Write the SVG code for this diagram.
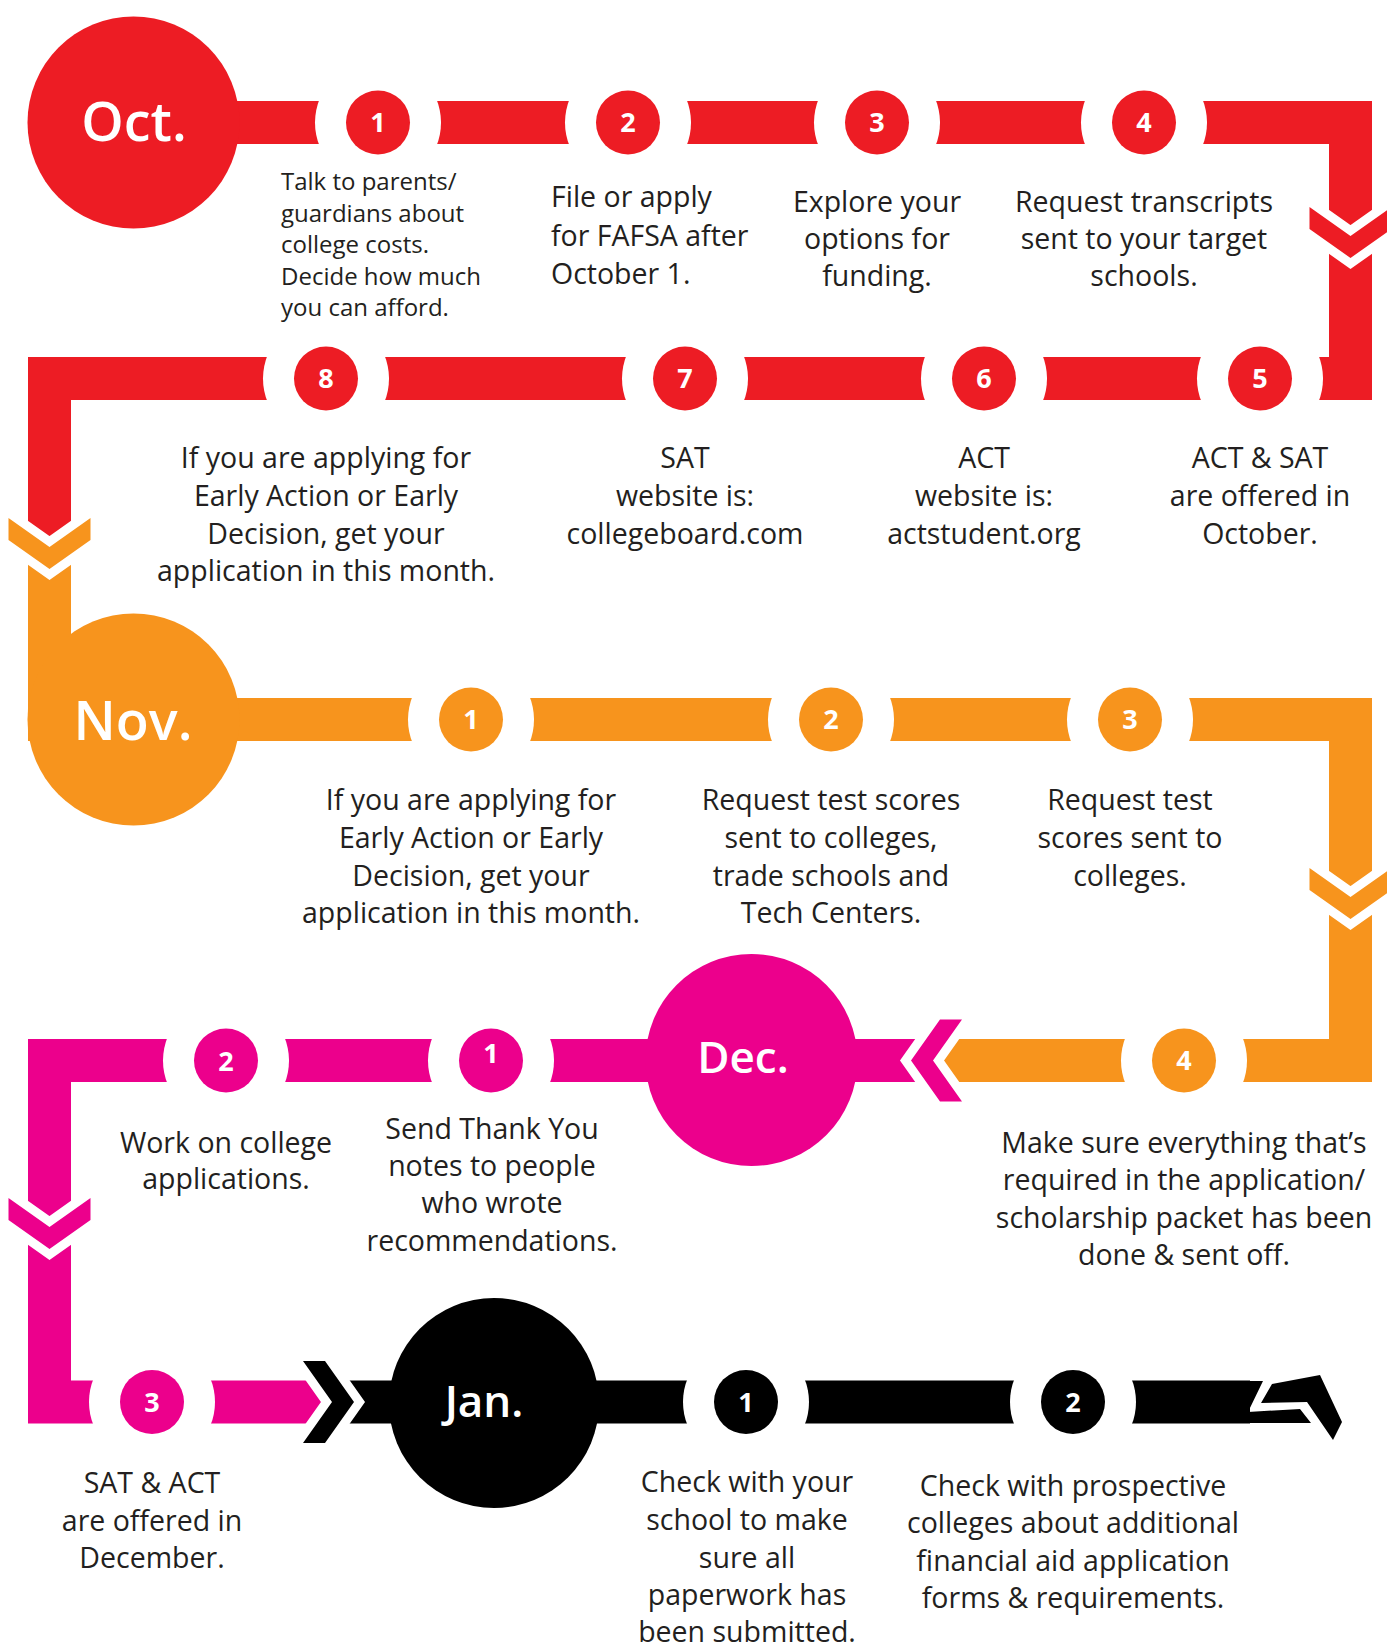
<svg xmlns="http://www.w3.org/2000/svg" width="1387" height="1648" viewBox="0 0 1387 1648">
<style>
.band{fill:none;stroke-width:43;stroke-linejoin:miter;stroke-linecap:butt}
.r{fill:#ED1C24}.o{fill:#F7941D}.p{fill:#EC008C}.k{fill:#000}
.rs{stroke:#ED1C24}.os{stroke:#F7941D}.ps{stroke:#EC008C}.ks{stroke:#000}
.gap{fill:#fff}
.chev{stroke:#fff;stroke-width:18;stroke-linejoin:miter;paint-order:stroke}
.num{font-family:'Open Sans','Liberation Sans',sans-serif;font-weight:700;font-size:27px;fill:#fff;text-anchor:middle}
.mon{font-family:'Open Sans','Liberation Sans',sans-serif;font-weight:600;fill:#fff;text-anchor:middle}
.t{font-family:'Open Sans','Liberation Sans',sans-serif;font-size:28.5px;fill:#231F20;text-anchor:middle}
.ts{font-size:24px;text-anchor:start}
.tl{text-anchor:start}
</style>
<g id="connectors">
  <path class="band rs" d="M133,122.5 H1350.5 V378.5 H49.5 V543"/>
  <path class="band os" d="M49.5,543 V719.5 H1350.5 V1060.5 H937"/>
  <path class="band ps" d="M937,1060.5 H49.5 V1402 H328"/>
  <path class="band ks" d="M328,1402 H1250"/>
  <polygon class="k" points="1249,1381 1263,1381 1248,1412 1300,1409 1311,1423 1249,1423"/>
  <polygon class="k" points="1272,1384 1320,1375 1342,1422 1333,1440 1307,1402 1261,1403"/>
  <g class="gap">
    <circle cx="378" cy="122.5" r="63"/><circle cx="628" cy="122.5" r="63"/><circle cx="877" cy="122.5" r="63"/><circle cx="1144" cy="122.5" r="63"/>
    <circle cx="326" cy="378.5" r="63"/><circle cx="685" cy="378.5" r="63"/><circle cx="984" cy="378.5" r="63"/><circle cx="1260" cy="378.5" r="63"/>
    <circle cx="471" cy="719.5" r="63"/><circle cx="831" cy="719.5" r="63"/><circle cx="1130" cy="719.5" r="63"/>
    <circle cx="1184" cy="1060.5" r="63"/><circle cx="491" cy="1060.5" r="63"/><circle cx="226" cy="1060.5" r="63"/>
    <circle cx="152" cy="1402" r="63"/><circle cx="746" cy="1402" r="63"/><circle cx="1073" cy="1402" r="63"/>
  </g>
  <polygon class="r chev" points="1309.5,207 1350.5,236 1391.5,207 1391.5,229 1350.5,258 1309.5,229"/>
  <polygon class="o chev" points="8.5,518 49.5,547 90.5,518 90.5,540 49.5,569 8.5,540"/>
  <polygon class="o chev" points="1309.5,868 1350.5,897 1391.5,868 1391.5,890 1350.5,919 1309.5,890"/>
  <polygon class="p chev" points="8.5,1198 49.5,1227 90.5,1198 90.5,1220 49.5,1249 8.5,1220"/>
  <polygon class="p chev" points="962,1019.5 933,1060.5 962,1101.5 940,1101.5 911,1060.5 940,1019.5"/>
  <polygon class="k chev" points="303,1443 332,1402 303,1361 325,1361 354,1402 325,1443"/>
</g>

<g id="oct">
  <circle class="r" cx="133.5" cy="122.5" r="106"/>
  <text class="mon" x="134" y="141" font-size="54">Oct.</text>
</g>
<g id="oct-1">
  <circle class="r" cx="378" cy="122.5" r="32"/><text class="num" x="378" y="132">1</text>
  <text class="t ts" x="281"><tspan x="281" y="190">Talk to parents/</tspan><tspan x="281" y="221.5">guardians about</tspan><tspan x="281" y="253">college costs.</tspan><tspan x="281" y="284.5">Decide how much</tspan><tspan x="281" y="316">you can afford.</tspan></text>
</g>
<g id="oct-2">
  <circle class="r" cx="628" cy="122.5" r="32"/><text class="num" x="628" y="132">2</text>
  <text class="t tl"><tspan x="551" y="207">File or apply</tspan><tspan x="551" y="245.5">for FAFSA after</tspan><tspan x="551" y="284">October 1.</tspan></text>
</g>
<g id="oct-3">
  <circle class="r" cx="877" cy="122.5" r="32"/><text class="num" x="877" y="132">3</text>
  <text class="t"><tspan x="877" y="211.5">Explore your</tspan><tspan x="877" y="248.5">options for</tspan><tspan x="877" y="285.5">funding.</tspan></text>
</g>
<g id="oct-4">
  <circle class="r" cx="1144" cy="122.5" r="32"/><text class="num" x="1144" y="132">4</text>
  <text class="t"><tspan x="1144" y="211.5">Request transcripts</tspan><tspan x="1144" y="248.5">sent to your target</tspan><tspan x="1144" y="285.5">schools.</tspan></text>
</g>
<g id="oct-5">
  <circle class="r" cx="1260" cy="378.5" r="32"/><text class="num" x="1260" y="388">5</text>
  <text class="t"><tspan x="1260" y="468">ACT &amp; SAT</tspan><tspan x="1260" y="505.5">are offered in</tspan><tspan x="1260" y="543.5">October.</tspan></text>
</g>
<g id="oct-6">
  <circle class="r" cx="984" cy="378.5" r="32"/><text class="num" x="984" y="388">6</text>
  <text class="t"><tspan x="984" y="468">ACT</tspan><tspan x="984" y="505.5">website is:</tspan><tspan x="984" y="543.5">actstudent.org</tspan></text>
</g>
<g id="oct-7">
  <circle class="r" cx="685" cy="378.5" r="32"/><text class="num" x="685" y="388">7</text>
  <text class="t"><tspan x="685" y="468">SAT</tspan><tspan x="685" y="505.5">website is:</tspan><tspan x="685" y="543.5">collegeboard.com</tspan></text>
</g>
<g id="oct-8">
  <circle class="r" cx="326" cy="378.5" r="32"/><text class="num" x="326" y="388">8</text>
  <text class="t"><tspan x="326" y="468">If you are applying for</tspan><tspan x="326" y="505.5">Early Action or Early</tspan><tspan x="326" y="543.5">Decision, get your</tspan><tspan x="326" y="581">application in this month.</tspan></text>
</g>

<g id="nov">
  <circle class="o" cx="133.5" cy="719.5" r="106"/>
  <text class="mon" x="133" y="740" font-size="54">Nov.</text>
</g>
<g id="nov-1">
  <circle class="o" cx="471" cy="719.5" r="32"/><text class="num" x="471" y="729">1</text>
  <text class="t"><tspan x="471" y="810">If you are applying for</tspan><tspan x="471" y="848">Early Action or Early</tspan><tspan x="471" y="886">Decision, get your</tspan><tspan x="471" y="923">application in this month.</tspan></text>
</g>
<g id="nov-2">
  <circle class="o" cx="831" cy="719.5" r="32"/><text class="num" x="831" y="729">2</text>
  <text class="t"><tspan x="831" y="810">Request test scores</tspan><tspan x="831" y="848">sent to colleges,</tspan><tspan x="831" y="886">trade schools and</tspan><tspan x="831" y="923">Tech Centers.</tspan></text>
</g>
<g id="nov-3">
  <circle class="o" cx="1130" cy="719.5" r="32"/><text class="num" x="1130" y="729">3</text>
  <text class="t"><tspan x="1130" y="810">Request test</tspan><tspan x="1130" y="848">scores sent to</tspan><tspan x="1130" y="886">colleges.</tspan></text>
</g>
<g id="nov-4">
  <circle class="o" cx="1184" cy="1060.5" r="32"/><text class="num" x="1184" y="1070">4</text>
  <text class="t"><tspan x="1184" y="1153">Make sure everything that’s</tspan><tspan x="1184" y="1190">required in the application/</tspan><tspan x="1184" y="1228">scholarship packet has been</tspan><tspan x="1184" y="1265">done &amp; sent off.</tspan></text>
</g>

<g id="dec">
  <circle class="p" cx="751.5" cy="1060" r="106"/>
  <text class="mon" x="743" y="1073" font-size="44">Dec.</text>
</g>
<g id="dec-1">
  <circle class="p" cx="491" cy="1060.5" r="32"/><text class="num" x="491" y="1063">1</text>
  <text class="t"><tspan x="492" y="1139">Send Thank You</tspan><tspan x="492" y="1176">notes to people</tspan><tspan x="492" y="1213">who wrote</tspan><tspan x="492" y="1251">recommendations.</tspan></text>
</g>
<g id="dec-2">
  <circle class="p" cx="226" cy="1060.5" r="32"/><text class="num" x="226" y="1071">2</text>
  <text class="t"><tspan x="226" y="1153">Work on college</tspan><tspan x="226" y="1189">applications.</tspan></text>
</g>
<g id="dec-3">
  <circle class="p" cx="152" cy="1402" r="32"/><text class="num" x="152" y="1412">3</text>
  <text class="t"><tspan x="152" y="1493">SAT &amp; ACT</tspan><tspan x="152" y="1531">are offered in</tspan><tspan x="152" y="1568">December.</tspan></text>
</g>

<g id="jan">
  <circle class="k" cx="494" cy="1403" r="105"/>
  <text class="mon" x="484" y="1417" font-size="44">Jan.</text>
</g>
<g id="jan-1">
  <circle class="k" cx="746" cy="1402" r="32"/><text class="num" x="746" y="1412">1</text>
  <text class="t"><tspan x="747" y="1492">Check with your</tspan><tspan x="747" y="1530">school to make</tspan><tspan x="747" y="1568">sure all</tspan><tspan x="747" y="1605">paperwork has</tspan><tspan x="747" y="1642">been submitted.</tspan></text>
</g>
<g id="jan-2">
  <circle class="k" cx="1073" cy="1402" r="32"/><text class="num" x="1073" y="1412">2</text>
  <text class="t"><tspan x="1073" y="1496">Check with prospective</tspan><tspan x="1073" y="1533">colleges about additional</tspan><tspan x="1073" y="1571">financial aid application</tspan><tspan x="1073" y="1608">forms &amp; requirements.</tspan></text>
</g>
</svg>
